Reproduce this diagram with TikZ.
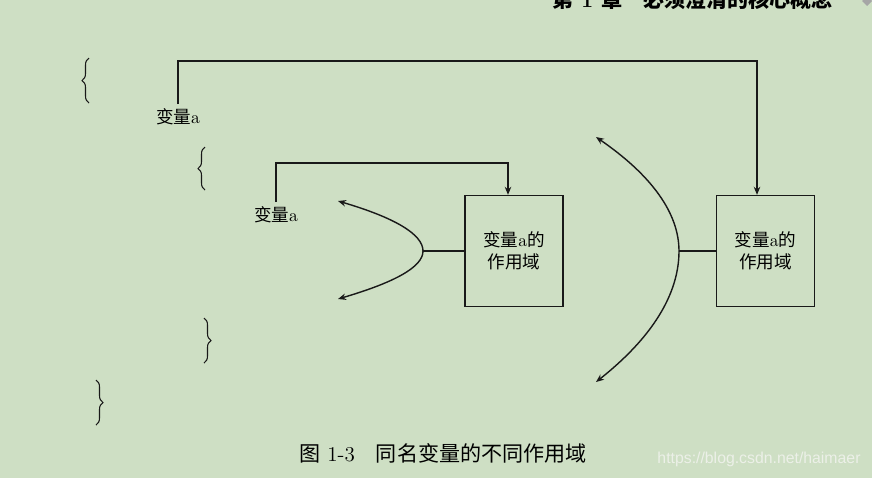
\documentclass[tikz,border=0pt]{standalone}
\usepackage{fontspec}
\newfontfamily\cjk{Noto Sans CJK SC}
\newfontfamily\wmfont{Liberation Sans}
\usetikzlibrary{arrows.meta,decorations.pathreplacing}
\definecolor{paper}{RGB}{206,223,196}
\definecolor{ink}{RGB}{25,25,25}
\definecolor{wmgray}{RGB}{236,240,232}
\tikzset{%
  block/.style    = {draw=ink, line width=0.8pt, rectangle, minimum width=1.96cm,
    minimum height=2.22cm, inner sep=0pt, align=center,
    font=\fontsize{10}{12.5}\selectfont},
  var/.style      = {inner sep=2.5pt, font=\fontsize{10}{12}\selectfont}, % variable name
  wire/.style     = {draw=ink, line width=0.8pt},
  curly/.style    = {draw=ink, line width=0.6pt, decorate,
    decoration={brace, amplitude=0.14cm}}, % code block brace
  pagehead/.style = {anchor=base west, inner sep=0pt, font=\fontsize{12}{14}\selectfont\bfseries},
  figtitle/.style = {anchor=west, inner sep=0pt, font=\fontsize{12}{14}\selectfont},
  watermark/.style = {text=wmgray, inner sep=0pt, font=\wmfont\fontsize{9}{11}\selectfont}
}
\begin{document}
\begin{tikzpicture}[x=0.02cm, y=-0.02cm, >={Stealth[length=1.6mm, width=1.3mm]}]
\useasboundingbox (0,0) rectangle (872,478);
\clip (0,0) rectangle (872,478);
\fill[paper] (0,0) rectangle (872,478);
% page head, caption
\draw
	node at(552,7)[pagehead, name=head]{{\cjk 第} 1 {\cjk 章}\quad{\cjk 必须澄清的核心概念}}
	node at(299,453)[figtitle, name=title]{{\cjk 图} 1-3\hspace{1em}{\cjk 同名变量的不同作用域}}
	node at(759,459)[watermark, name=wm]{https://blog.csdn.net/haimaer};
\fill[gray!70] (867,-4) -- (872,1) -- (867,6) -- (862,1) -- cycle;
% braces
\draw[curly] (89,103) -- (89,58);
\draw[curly] (205,190) -- (205,147);
\draw[curly] (204,318) -- (204,363);
\draw[curly] (96,380) -- (96,425);
% variables and their scopes
\draw
	node at(178,117)[var, name=outer]{{\cjk 变量}a}
	node at(276,215)[var, name=inner]{{\cjk 变量}a}
	node at(514,251)[block, name=innerscope]{{\cjk 变量}a{\cjk 的}\\{\cjk 作用域}}
	node at(765.5,251)[block, name=outerscope]{{\cjk 变量}a{\cjk 的}\\{\cjk 作用域}};
\coordinate (outertop) at (757,61);
\coordinate (innertop) at (508,163);
\coordinate (innertip) at (423,251);
\coordinate (outertip) at (679,251);
\draw[wire, ->](outer.north) |- (outertop) -- (outertop |- outerscope.north);
\draw[wire, ->](inner.north) |- (innertop) -- (innertop |- innerscope.north);
\draw[wire](innerscope.west) -- (innertip);
\draw[wire](outerscope.west) -- (outertip);
\draw[wire, ->](innertip) .. controls (423,234.3) and (394.7,217.7) .. (338,201);
\draw[wire, ->](innertip) .. controls (423,267) and (394.7,282.3) .. (338,299);
\draw[wire, ->](outertip) .. controls (679,213) and (651.3,175) .. (596,137);
\draw[wire, ->](outertip) .. controls (679,294.7) and (651.3,338.3) .. (596,382);
\end{tikzpicture}
\end{document}
